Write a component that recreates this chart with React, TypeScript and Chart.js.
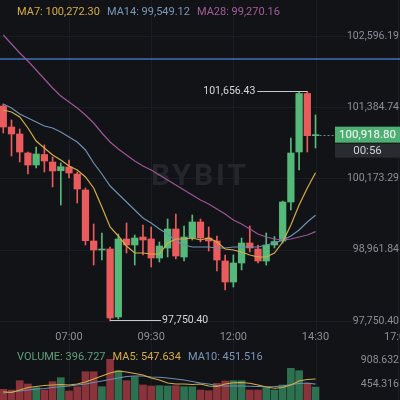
import React, { useEffect, useRef } from "react";
import { Chart, registerables } from "chart.js";

Chart.register(...registerables);

// ---------- data ----------
const timeTickIndex = [8, 18, 28, 38, 48];
const timeTickLabels = ["07:00", "09:30", "12:00", "14:30", "17:00"];
const priceTicks = [102596.19, 101384.74, 100173.29, 98961.84, 97750.4];
const volumeTicks = [908.632, 454.316];

const opens = [
  101406.0, 101048.9, 100929.9, 100606.8, 100402.8, 100581.3, 100453.8, 100305.9, 100368.8, 100249.8,
  99977.7, 99110.6, 98957.5, 98974.5, 97818.3, 99144.6, 99042.6, 99178.6, 99144.6, 98821.5,
  98991.6, 99314.6, 98838.5, 99161.6, 99433.6, 99161.6, 99110.6, 98770.5, 98413.5, 98736.5,
  99076.6, 98974.6, 98770.5, 99042.6, 99110.6, 99773.7, 100623.8, 101618.5, 100901.0,
];
const closes = [
  101048.9, 100929.9, 100623.8, 100402.8, 100589.8, 100470.8, 100300.8, 100373.9, 100266.8, 99994.7,
  99115.7, 98957.5, 98974.5, 97801.4, 99144.6, 99042.6, 99161.6, 99127.6, 98821.5, 99025.6,
  99314.6, 98855.5, 99178.6, 99433.6, 99161.6, 99110.6, 98787.5, 98413.5, 98736.5, 99076.6,
  98991.6, 98770.5, 99042.6, 99102.1, 99773.7, 100606.8, 101618.5, 100901.0, 100918.8,
];
const highs = [
  101440.0, 101167.9, 101014.9, 100623.8, 100708.9, 100742.9, 100538.8, 100436.8, 100487.8, 100283.8,
  100011.7, 99399.6, 99246.6, 99008.6, 99229.6, 99416.6, 99212.6, 99382.6, 99348.6, 99093.6,
  99484.6, 99569.7, 99365.6, 99552.7, 99484.6, 99348.6, 99195.6, 98872.5, 98872.5, 99161.6,
  99365.6, 99042.6, 99246.6, 99187.1, 99790.7, 100861.9, 101644.0, 101656.43, 101253.0,
];
const lows = [
  100946.9, 100555.8, 100453.8, 100249.8, 100351.8, 100283.8, 100028.7, 99722.7, 100181.8, 99756.7,
  99042.6, 98702.5, 98787.5, 97750.4, 97784.3, 98906.5, 98702.5, 98872.5, 98668.5, 98753.5,
  98838.5, 98804.5, 98770.5, 99127.6, 99093.6, 98940.5, 98600.5, 98277.4, 98328.4, 98617.5,
  98923.5, 98736.5, 98702.5, 98991.6, 99076.6, 99637.7, 100317.8, 100623.8, 100691.9,
];
const volumes = [
  354.0, 340.7, 516.8, 454.3, 384.2, 340.7, 497.8, 573.5, 321.8, 403.2,
  687.1, 687.1, 403.2, 921.9, 706.0, 516.8, 592.5, 435.3, 416.4, 422.1,
  416.4, 422.1, 403.2, 403.2, 340.7, 327.4, 467.5, 511.1, 516.8, 516.8,
  340.7, 340.7, 384.2, 340.7, 435.3, 751.5, 706.0, 467.5, 396.727,
];
const ma7 = [
  101338.0, 101304.0, 101218.9, 101031.9, 100810.9, 100691.9, 100572.8, 100487.8, 100385.8, 100317.8,
  100198.8, 100011.7, 99688.7, 99348.6, 99195.6, 99025.6, 98906.5, 98906.5, 98889.5, 98889.5,
  99076.6, 99144.6, 99144.6, 99161.6, 99127.6, 99161.6, 99093.6, 98974.6, 98957.5, 98923.5,
  98872.5, 98838.5, 98838.5, 98906.5, 99093.6, 99382.6, 99722.7, 100011.7, 100272.3,
];
const ma14 = [
  101440.0, 101372.0, 101270.0, 101201.9, 101133.9, 101065.9, 101031.9, 100963.9, 100878.9, 100793.9,
  100657.8, 100436.8, 100249.8, 100045.7, 99909.7, 99773.7, 99637.7, 99501.6, 99416.6, 99314.6,
  99229.6, 99110.6, 99042.6, 99008.6, 99008.6, 99008.6, 98991.6, 98991.6, 99008.6, 99008.6,
  99008.6, 99008.6, 99042.6, 99076.6, 99127.6, 99195.6, 99297.6, 99433.6, 99549.12,
];
const ma28 = [
  102613.2, 102460.2, 102307.1, 102171.1, 102018.1, 101865.1, 101712.0, 101576.0, 101474.0, 101372.0,
  101253.0, 101116.9, 100946.9, 100793.9, 100674.9, 100572.8, 100470.8, 100385.8, 100317.8, 100232.8,
  100147.8, 100062.7, 99977.7, 99892.7, 99807.7, 99739.7, 99654.7, 99569.7, 99467.6, 99399.6,
  99314.6, 99229.6, 99178.6, 99144.6, 99127.6, 99144.6, 99178.6, 99212.6, 99270.16,
];
const volMa5 = [
  308.5, 293.4, 340.7, 388.0, 406.9, 425.9, 435.3, 444.8, 435.3, 454.3,
  492.1, 548.9, 605.7, 662.5, 700.4, 681.4, 653.0, 624.6, 567.9, 530.0,
  473.2, 454.3, 454.3, 444.8, 454.3, 416.4, 406.9, 454.3, 478.9, 482.7,
  467.5, 435.3, 397.5, 372.9, 388.0, 435.3, 511.1, 539.4, 547.634,
];
const volMa10 = [
  283.9, 302.8, 321.8, 340.7, 358.6, 369.1, 388.0, 403.2, 416.4, 435.3,
  454.3, 482.7, 511.1, 539.4, 567.9, 596.3, 605.7, 605.7, 586.8, 581.1,
  567.9, 548.9, 530.0, 501.6, 473.2, 454.3, 425.9, 416.4, 416.4, 416.4,
  410.7, 406.9, 403.2, 406.9, 416.4, 444.8, 463.7, 473.2, 451.516,
];
const alertPrice = 102205.1;
const highMarkIndex = 37;
const lowMarkIndex = 13;
const countdown = "00:56";

// ---------- style ----------
const BG = "#121317";
const UP = "#55b97a";
const DOWN = "#e95b5d";
const UP_VOL = "#2e7150";
const DOWN_VOL = "#8a333b";
const C_MA7 = "#d6ad45";
const C_MA14 = "#6d8fb3";
const C_MA28 = "#9c5597";
const FONT = "Roboto, 'Noto Sans', sans-serif";

const idx = opens.map((_, i) => i);
const isUp = (i: number) => closes[i] >= opens[i];
const fmt = (v: number, d: number) =>
  v.toLocaleString("en-US", { minimumFractionDigits: d, maximumFractionDigits: d });

function drawRow(ctx: CanvasRenderingContext2D, items: [string, string][], x0: number, yy: number) {
  let xx = x0;
  items.forEach(([text, color]) => {
    ctx.fillStyle = color;
    ctx.fillText(text, xx, yy);
    xx += ctx.measureText(text).width + 7;
  });
}

const overlay = {
  id: "overlay",
  beforeDatasetsDraw(chart: any) {
    const { ctx, chartArea, scales } = chart;
    const { x, y } = scales;
    ctx.save();
    ctx.strokeStyle = "#1c1d24";
    ctx.lineWidth = 1;
    timeTickIndex.forEach((t) => {
      const px = Math.round(x.getPixelForValue(t)) + 0.5;
      ctx.beginPath();
      ctx.moveTo(px, chartArea.top);
      ctx.lineTo(px, chartArea.bottom);
      ctx.stroke();
    });
    priceTicks.forEach((p) => {
      const py = Math.round(y.getPixelForValue(p)) + 0.5;
      ctx.beginPath();
      ctx.moveTo(chartArea.left, py);
      ctx.lineTo(chartArea.right, py);
      ctx.stroke();
    });
    // watermark
    ctx.font = `bold 30px ${FONT}`;
    ctx.fillStyle = "#25262c";
    ctx.textAlign = "center";
    ctx.textBaseline = "middle";
    (ctx as any).letterSpacing = "3px";
    ctx.fillText("BYBIT", 200, 177);
    (ctx as any).letterSpacing = "0px";
    // alert line
    const ay = y.getPixelForValue(alertPrice);
    ctx.strokeStyle = "#3f72b8";
    ctx.lineWidth = 1.5;
    ctx.beginPath();
    ctx.moveTo(chartArea.left, ay);
    ctx.lineTo(chartArea.right, ay);
    ctx.stroke();
    ctx.restore();
  },
  afterDatasetsDraw(chart: any) {
    const { ctx, chartArea, scales } = chart;
    const { x, y, yv } = scales;
    const right = chartArea.right - 1;
    ctx.save();
    ctx.textBaseline = "middle";

    // price axis labels
    ctx.font = `10.5px ${FONT}`;
    ctx.fillStyle = "#8c8e95";
    ctx.textAlign = "right";
    priceTicks.forEach((p) => ctx.fillText(fmt(p, 2), right, y.getPixelForValue(p)));
    volumeTicks.forEach((v) => ctx.fillText(fmt(v, 3), right, yv.getPixelForValue(v)));

    // time labels
    ctx.font = `11px ${FONT}`;
    ctx.textAlign = "center";
    timeTickIndex.forEach((t, k) => ctx.fillText(timeTickLabels[k], x.getPixelForValue(t), 337));

    // legends
    ctx.font = `11px ${FONT}`;
    ctx.textAlign = "left";
    const last = opens.length - 1;
    drawRow(
      ctx,
      [
        [`MA7: ${fmt(ma7[last], 2)}`, C_MA7],
        [`MA14: ${fmt(ma14[last], 2)}`, "#7b97b8"],
        [`MA28: ${fmt(ma28[last], 2)}`, "#a35c9d"],
      ],
      17,
      12.5
    );
    drawRow(
      ctx,
      [
        [`VOLUME: ${fmt(volumes[last], 3)}`, "#5e9f7c"],
        [`MA5: ${fmt(volMa5[last], 3)}`, C_MA7],
        [`MA10: ${fmt(volMa10[last], 3)}`, "#7b97b8"],
      ],
      17,
      357.5
    );

    // high / low markers
    ctx.font = `10.5px ${FONT}`;
    ctx.strokeStyle = "#c9c9cc";
    ctx.fillStyle = "#d6d6d9";
    ctx.lineWidth = 1;
    const hx = x.getPixelForValue(highMarkIndex);
    const hy = Math.round(y.getPixelForValue(highs[highMarkIndex])) + 0.5;
    ctx.beginPath();
    ctx.moveTo(hx, hy);
    ctx.lineTo(hx - 50, hy);
    ctx.stroke();
    ctx.textAlign = "right";
    ctx.fillText(fmt(highs[highMarkIndex], 2), hx - 52, hy);
    const lx = x.getPixelForValue(lowMarkIndex);
    const ly = Math.round(y.getPixelForValue(lows[lowMarkIndex])) - 0.5;
    ctx.beginPath();
    ctx.moveTo(lx, ly);
    ctx.lineTo(lx + 51, ly);
    ctx.stroke();
    ctx.textAlign = "left";
    ctx.fillText(fmt(lows[lowMarkIndex], 2), lx + 52, ly);

    // current price
    const cp = closes[last];
    const cy = y.getPixelForValue(cp);
    const cx = x.getPixelForValue(last);
    ctx.strokeStyle = "#6f8a7a";
    ctx.setLineDash([2, 2]);
    ctx.beginPath();
    ctx.moveTo(cx + 4, Math.round(cy) + 0.5);
    ctx.lineTo(335, Math.round(cy) + 0.5);
    ctx.stroke();
    ctx.setLineDash([]);
    ctx.fillStyle = "#4daf72";
    ctx.fillRect(335, cy - 8, 70, 16);
    ctx.fillStyle = "#2a2b30";
    ctx.fillRect(335, cy + 9, 70, 14);
    ctx.font = `11.5px ${FONT}`;
    ctx.textAlign = "center";
    ctx.fillStyle = "#ffffff";
    ctx.fillText(fmt(cp, 2), 367.5, cy + 0.5);
    ctx.fillStyle = "#d0d0d3";
    ctx.fillText(countdown, 367.5, cy + 16.5);
    ctx.restore();
  },
};

export default function App() {
  const ref = useRef<HTMLCanvasElement>(null);
  useEffect(() => {
    document.body.style.margin = "0";
    document.body.style.background = BG;
    const chart = new Chart(ref.current as HTMLCanvasElement, {
      type: "bar",
      data: {
        datasets: [
          {
            type: "line",
            data: idx.map((i) => ({ x: i, y: ma7[i] })),
            borderColor: C_MA7,
            borderWidth: 1.2,
            pointRadius: 0,
            yAxisID: "y",
            order: 1,
          } as any,
          {
            type: "line",
            data: idx.map((i) => ({ x: i, y: ma14[i] })),
            borderColor: C_MA14,
            borderWidth: 1.2,
            pointRadius: 0,
            yAxisID: "y",
            order: 2,
          },
          {
            type: "line",
            data: idx.map((i) => ({ x: i, y: ma28[i] })),
            borderColor: C_MA28,
            borderWidth: 1.2,
            pointRadius: 0,
            yAxisID: "y",
            order: 3,
          },
          {
            type: "bar",
            data: idx.map((i) => ({ x: i, y: [opens[i], closes[i]] })),
            backgroundColor: idx.map((i) => (isUp(i) ? UP : DOWN)),
            barThickness: 6.6,
            minBarLength: 1,
            grouped: false,
            yAxisID: "y",
            order: 4,
          },
          {
            type: "bar",
            data: idx.map((i) => ({ x: i, y: [lows[i], highs[i]] })),
            backgroundColor: idx.map((i) => (isUp(i) ? UP : DOWN)),
            barThickness: 1,
            grouped: false,
            yAxisID: "y",
            order: 5,
          },
          {
            type: "line",
            data: idx.map((i) => ({ x: i, y: volMa5[i] })),
            borderColor: C_MA7,
            borderWidth: 1.1,
            pointRadius: 0,
            yAxisID: "yv",
            order: 6,
          },
          {
            type: "line",
            data: idx.map((i) => ({ x: i, y: volMa10[i] })),
            borderColor: C_MA14,
            borderWidth: 1.1,
            pointRadius: 0,
            yAxisID: "yv",
            order: 7,
          },
          {
            type: "bar",
            data: idx.map((i) => ({ x: i, y: volumes[i] })),
            backgroundColor: idx.map((i) => (isUp(i) ? UP_VOL : DOWN_VOL)),
            barThickness: 7,
            grouped: false,
            yAxisID: "yv",
            order: 8,
          },
        ] as any,
      },
      options: {
        animation: false,
        responsive: false,
        events: [],
        layout: { padding: 0 },
        plugins: { legend: { display: false }, tooltip: { enabled: false } },
        scales: {
          x: { type: "linear", min: -0.4, max: 48.28, display: false, offset: false },
          y: { type: "linear", min: 96407.1, max: 103208.3, display: false },
          yv: { type: "linear", min: 151.4, max: 7723.4, display: false },
        },
      } as any,
      plugins: [overlay],
    });
    return () => chart.destroy();
  }, []);
  return (
    <div style={{ width: 400, height: 400, background: BG }}>
      <canvas ref={ref} width={400} height={400} style={{ display: "block" }} />
    </div>
  );
}
